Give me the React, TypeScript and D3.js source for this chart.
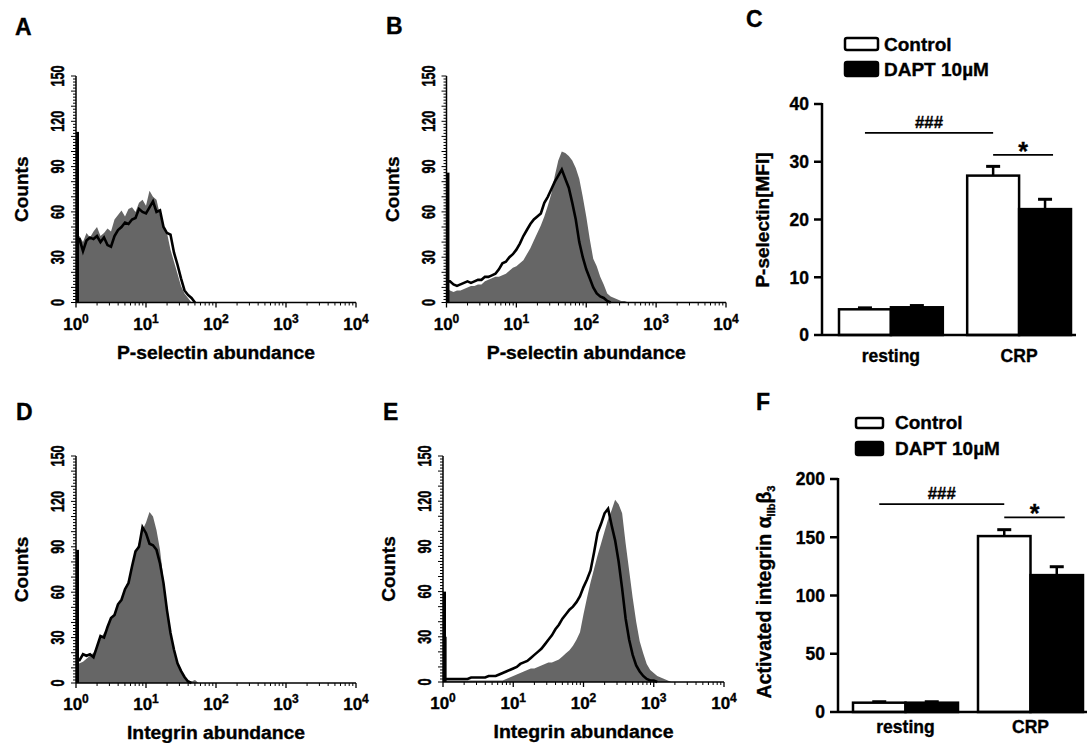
import * as d3 from "d3";

const FONT = "'Liberation Sans', Arial, Helvetica, sans-serif";

// flow histograms: counts per channel group, channel width = STEP decades, starting at 10^0
const STEP = 0.05;
const SPIKE_AT = 1.05;
const decades = [1, 10, 100, 1000, 10000];
const countTicks = [0, 30, 60, 90, 120, 150];

const aGray = [42, 44, 40, 46, 43, 47, 50, 44, 46, 49, 47, 55, 58, 61, 57, 62, 63, 60, 66, 68, 64, 74, 70, 68, 58, 50, 46, 35, 27, 19, 11, 6, 3, 0];
const aBlack = [42, 42, 34, 41, 43, 42, 44, 40, 43, 38, 37, 44, 48, 50, 53, 52, 55, 56, 62, 60, 59, 63, 67, 60, 61, 50, 46, 45, 33, 25, 16, 8, 5, 3, 0];
const aSpike = 113;

const bGray = [10, 8, 7, 8, 8, 9, 10, 11, 11, 12, 12, 14, 15, 16, 17, 17, 18, 19, 21, 23, 24, 26, 28, 32, 36, 41, 46, 51, 57, 64, 72, 84, 94, 100, 99, 97, 94, 89, 82, 70, 57, 42, 29, 24, 17, 12, 6, 4, 3, 2, 1, 1, 0];
const bBlack = [14, 14, 12, 11, 12, 13, 14, 13, 14, 15, 15, 17, 17, 18, 19, 22, 26, 27, 30, 32, 35, 39, 44, 48, 52, 55, 57, 59, 66, 70, 75, 80, 84, 88, 82, 76, 66, 55, 40, 30, 22, 16, 10, 6, 4, 3, 1, 0];
const bSpike = 86;

const dGray = [12, 13, 14, 16, 18, 20, 24, 29, 33, 37, 42, 46, 52, 56, 63, 68, 77, 86, 93, 101, 106, 113, 110, 101, 88, 68, 51, 35, 22, 13, 8, 4, 2, 1, 2, 0];
const dBlack = [15, 15, 19, 18, 19, 17, 24, 31, 30, 37, 43, 45, 52, 55, 62, 66, 77, 87, 90, 103, 99, 92, 91, 88, 79, 66, 48, 33, 22, 13, 8, 4, 1, 0];
const dSpike = 88;

const eGray = [1, 1, 1, 1, 1, 1, 1, 1, 1, 1, 1, 1, 1, 1, 1, 1, 1, 1, 2, 3, 4, 5, 6, 7, 8, 9, 9, 10, 11, 12, 13, 13, 14, 15, 17, 19, 21, 24, 28, 33, 45, 56, 66, 75, 84, 92, 100, 108, 114, 121, 118, 112, 92, 74, 56, 40, 27, 19, 12, 8, 6, 4, 3, 2, 1, 0];
const eBlack = [2, 2, 2, 2, 2, 2, 2, 2, 3, 3, 3, 3, 3, 4, 4, 4, 5, 6, 7, 8, 9, 10, 12, 13, 14, 16, 18, 20, 22, 25, 28, 31, 35, 38, 42, 45, 48, 50, 53, 57, 63, 68, 74, 86, 99, 105, 112, 115, 104, 94, 80, 62, 42, 28, 18, 11, 7, 4, 2, 1, 1, 0];
const eSpike = 60;
const eGraySpike = 30;

// bar charts
const groups = ["resting", "CRP"];
const treatments = ["Control", "DAPT 10µM"];

const pselControl = [4.45, 27.6];
const pselControlErr = [0.25, 1.6];
const pselDapt = [4.8, 21.8];
const pselDaptErr = [0.3, 1.7];
const pselTicks = [0, 10, 20, 30, 40];
const pselHash = 35;
const pselStar = 31.2;

const integControl = [8, 151];
const integControlErr = [0.8, 5.5];
const integDapt = [8, 117.5];
const integDaptErr = [0.8, 7.2];
const integTicks = [0, 50, 100, 150, 200];
const integHash = 178.5;
const integStar = 167;

// the original figure's type is heavier than Liberation Sans Bold
const heavy = { stroke: "#000", strokeWidth: 0.35 };

function Hist({ x0, x1, top, bottom, gray, black, spike, graySpike = 0, title, titleLen, letter, lx, ly }: any) {
  const x = d3.scaleLog().domain([1, 1e4]).range([x0, x1]);
  const y = d3.scaleLinear().domain([0, 150]).range([bottom, top]);
  const bx = (_: number, i: number) => x(Math.pow(10, i * STEP));
  const area = d3.area<number>().x(bx).y0(y(0)).y1((d) => y(d));
  const line = d3.line<number>().x(bx).y((d) => y(d));
  const minorX = d3.range(0, 4).flatMap((k) => d3.range(2, 10).map((m) => m * Math.pow(10, k)));
  const minorY = d3.range(0, 151, 2);
  const midY = (top + bottom) / 2;

  return (
    <g fontFamily={FONT} fontWeight="bold" fill="#000">
      <text x={lx} y={ly} fontSize={23} {...heavy}>{letter}</text>

      <path d={area(gray) || ""} fill="#666" />
      {graySpike > 0 && (
        <line x1={x(1.1)} x2={x(1.1)} y1={y(0)} y2={y(graySpike)} stroke="#111" strokeWidth={1.5} />
      )}
      <path d={line(black) || ""} fill="none" stroke="#000" strokeWidth={2.6} />
      <line x1={x(SPIKE_AT)} x2={x(SPIKE_AT)} y1={y(0)} y2={y(spike)} stroke="#000" strokeWidth={3} />

      {/* y axis */}
      <line x1={x0} x2={x0} y1={bottom} y2={top} stroke="#000" strokeWidth={1.5} />
      {minorY.map((v) => (
        <line key={v} x1={x0} x2={x0 - (v % 10 === 0 ? 5 : 3)} y1={y(v)} y2={y(v)} stroke="#000" strokeWidth={1} />
      ))}
      {countTicks.map((v) => (
        <text
          key={v}
          transform={`translate(${x0 - 12},${y(v)}) rotate(-90) scale(0.7,1)`}
          textAnchor="middle"
          fontSize={18}
          stroke="#000"
          strokeWidth={0.5}
        >
          {v}
        </text>
      ))}
      <text transform={`translate(${x0 - 48},${midY}) rotate(-90)`} textAnchor="middle" fontSize={19} {...heavy}>
        Counts
      </text>

      {/* x axis */}
      <line x1={x0} x2={x1} y1={bottom} y2={bottom} stroke="#000" strokeWidth={1.5} />
      {minorX.map((v) => (
        <line key={v} x1={x(v)} x2={x(v)} y1={bottom} y2={bottom + 3} stroke="#000" strokeWidth={1} />
      ))}
      {decades.map((v, k) => (
        <g key={v}>
          <line x1={x(v)} x2={x(v)} y1={bottom} y2={bottom + 5} stroke="#000" strokeWidth={1.3} />
          <text x={x(v)} y={bottom + 27} textAnchor="middle" fontSize={17} {...heavy}>
            10<tspan dy={-7} fontSize={12}>{k}</tspan>
          </text>
        </g>
      ))}
      <text
        x={(x0 + x1) / 2}
        y={bottom + 56}
        textAnchor="middle"
        fontSize={18}
        textLength={titleLen}
        lengthAdjust="spacingAndGlyphs"
        {...heavy}
      >
        {title}
      </text>
    </g>
  );
}

function BarPanel(p: any) {
  const y = d3.scaleLinear().domain([0, p.yMax]).range([p.bottom, p.top]);
  const xg = d3.scaleBand().domain(groups).range(p.band).paddingInner(p.padInner).paddingOuter(0);
  const xs = d3.scaleBand().domain(treatments).range([0, xg.bandwidth()]);
  const series = [
    { name: treatments[0], vals: p.control, errs: p.controlErr, fill: "#fff" },
    { name: treatments[1], vals: p.dapt, errs: p.daptErr, fill: "#000" },
  ];
  const center = (g: string, t: string) => (xg(g) as number) + (xs(t) as number) + xs.bandwidth() / 2;
  const hashX1 = center(groups[0], treatments[0]);
  const hashX2 = center(groups[1], treatments[0]);
  const starX1 = center(groups[1], treatments[0]);
  const starX2 = center(groups[1], treatments[1]) + p.starExtra;

  return (
    <g fontFamily={FONT} fontWeight="bold" fill="#000">
      <text x={p.lx} y={p.ly} fontSize={23} {...heavy}>{p.letter}</text>

      {/* legend */}
      {series.map((s, i) => (
        <g key={s.name}>
          <rect
            x={p.legX}
            y={p.legY[i]}
            width={p.legW}
            height={p.legH[i]}
            rx={2}
            fill={s.fill}
            stroke="#000"
            strokeWidth={2.5}
          />
          <text x={p.legTextX} y={p.legBase[i]} fontSize={19} {...heavy}>{s.name}</text>
        </g>
      ))}

      {/* bars */}
      {series.map((s) =>
        groups.map((g, gi) => {
          const bx = (xg(g) as number) + (xs(s.name) as number);
          const cx = bx + xs.bandwidth() / 2;
          const top = y(s.vals[gi]);
          const errTop = y(s.vals[gi] + s.errs[gi]);
          return (
            <g key={s.name + g}>
              <line x1={cx} x2={cx} y1={top} y2={errTop} stroke="#000" strokeWidth={2.5} />
              <line x1={cx - 7} x2={cx + 7} y1={errTop} y2={errTop} stroke="#000" strokeWidth={3} />
              <rect
                x={bx}
                y={top}
                width={xs.bandwidth()}
                height={y(0) - top}
                fill={s.fill}
                stroke="#000"
                strokeWidth={2.5}
              />
            </g>
          );
        })
      )}

      {/* significance */}
      <line x1={hashX1} x2={hashX2} y1={y(p.hash)} y2={y(p.hash)} stroke="#000" strokeWidth={1.8} />
      <text
        x={(hashX1 + hashX2) / 2}
        y={y(p.hash) - 5}
        textAnchor="middle"
        fontSize={17}
        textLength={28}
        lengthAdjust="spacingAndGlyphs"
        {...heavy}
      >
        ###
      </text>
      <line x1={starX1} x2={starX2} y1={y(p.star)} y2={y(p.star)} stroke="#000" strokeWidth={1.8} />
      <text x={(starX1 + starX2) / 2} y={y(p.star) + 5} textAnchor="middle" fontSize={25} {...heavy}>*</text>

      {/* axes */}
      <line x1={p.axisX} x2={p.axisX} y1={y(0)} y2={p.top - 1} stroke="#000" strokeWidth={2.5} />
      <line x1={p.axisX} x2={p.axisRight} y1={y(0)} y2={y(0)} stroke="#000" strokeWidth={2.5} />
      {p.ticks.map((v: number) => (
        <g key={v}>
          <line x1={p.axisX - 8} x2={p.axisX} y1={y(v)} y2={y(v)} stroke="#000" strokeWidth={2.5} />
          <text x={p.axisX - 13} y={y(v)} dy="0.36em" textAnchor="end" fontSize={17.5} {...heavy}>{v}</text>
        </g>
      ))}
      {groups.map((g) => (
        <text key={g} x={(xg(g) as number) + xg.bandwidth() / 2} y={p.catBase} textAnchor="middle" fontSize={17.5} {...heavy}>
          {g}
        </text>
      ))}
      {p.titleNode}
    </g>
  );
}

export default function App() {
  return (
    <svg
      width={1087}
      height={743}
      viewBox="0 0 1087 743"
      style={{ position: "absolute", left: 0, top: 0, background: "#fff" }}
    >
      <rect width={1087} height={743} fill="#fff" />
      <Hist x0={76} x1={356} top={76} bottom={302.5} gray={aGray} black={aBlack} spike={aSpike}
        title="P-selectin abundance" titleLen={198} letter="A" lx={15} ly={35} />
      <Hist x0={446.5} x1={726} top={76} bottom={302.5} gray={bGray} black={bBlack} spike={bSpike}
        title="P-selectin abundance" titleLen={199} letter="B" lx={386} ly={34} />
      <Hist x0={76} x1={356} top={456} bottom={683} gray={dGray} black={dBlack} spike={dSpike}
        title="Integrin abundance" titleLen={178} letter="D" lx={16} ly={420} />
      <Hist x0={443} x1={724} top={456} bottom={682} gray={eGray} black={eBlack} spike={eSpike} graySpike={eGraySpike}
        title="Integrin abundance" titleLen={180} letter="E" lx={383} ly={420} />

      <BarPanel
        letter="C" lx={746} ly={27}
        yMax={40} top={104} bottom={335} axisX={822} axisRight={1076}
        band={[839, 1071]} padInner={0.19}
        control={pselControl} controlErr={pselControlErr} dapt={pselDapt} daptErr={pselDaptErr}
        ticks={pselTicks} hash={pselHash} star={pselStar} starExtra={8}
        legX={845} legW={33} legY={[38, 62]} legH={[12, 14]} legTextX={884} legBase={[51, 76]}
        catBase={362}
        titleNode={
          <text transform="translate(769,220) rotate(-90)" textAnchor="middle" fontSize={19} {...heavy}>
            P-selectin[MFI]
          </text>
        }
      />
      <BarPanel
        letter="F" lx={756} ly={410}
        yMax={200} top={479} bottom={712} axisX={838} axisRight={1087}
        band={[853, 1083]} padInner={0.16}
        control={integControl} controlErr={integControlErr} dapt={integDapt} daptErr={integDaptErr}
        ticks={integTicks} hash={integHash} star={integStar} starExtra={8}
        legX={856} legW={27} legY={[418, 442]} legH={[10, 13]} legTextX={895} legBase={[429, 455]}
        catBase={733}
        titleNode={
          <text transform="translate(771,592) rotate(-90)" textAnchor="middle" fontSize={19.5} {...heavy}>
            Activated integrin α<tspan dy={4} fontSize={11}>IIb</tspan>
            <tspan dy={-4}>β</tspan>
            <tspan dy={4} fontSize={11}>3</tspan>
          </text>
        }
      />
    </svg>
  );
}
